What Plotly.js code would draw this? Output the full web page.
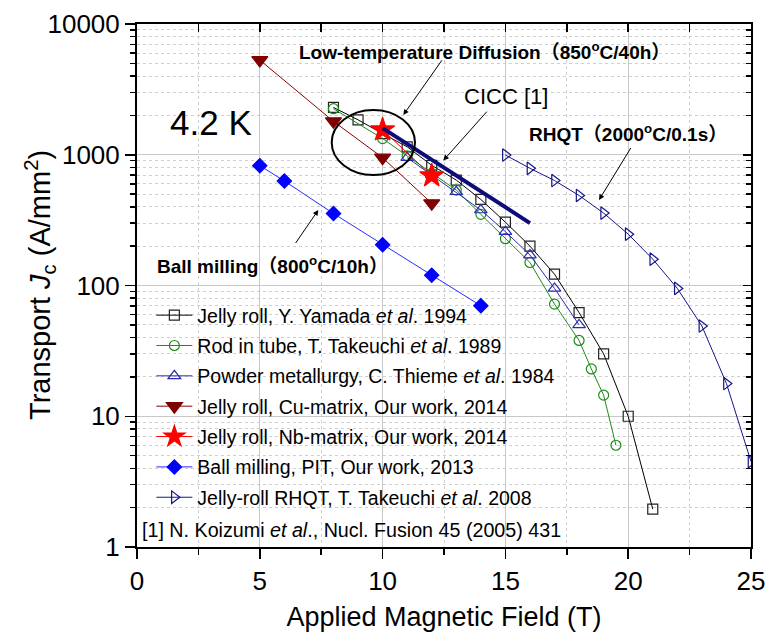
<!DOCTYPE html>
<html>
<head>
<meta charset="utf-8">
<script src="https://cdn.plot.ly/plotly-3.0.1.min.js"></script>
<style>html,body{margin:0;padding:0;background:#fff;}#chart{width:778px;height:633px;}</style>
</head>
<body>
<div id="chart"></div>
<script>
// ---- data ----
const yamadaB  = [8, 9, 10, 11, 12, 13, 14, 15, 16, 17, 18, 19, 20, 21];
const yamadaJc = [2300, 1850, 1450, 1150, 830, 640, 455, 305, 200, 122, 62, 30, 10, 1.95];

const takeuchi89B  = [8, 10, 11, 12, 13, 14, 15, 16, 17, 18, 18.5, 19, 19.5];
const takeuchi89Jc = [2250, 1330, 980, 720, 537, 350, 228, 150, 72, 38, 23, 14.5, 6];

const thiemeB  = [11, 12, 13, 14, 15, 16, 17, 18];
const thiemeJc = [950, 700, 521, 378, 258, 171, 95, 50];

const cuB  = [5, 8, 10, 12];
const cuJc = [5300, 1800, 950, 425];

const nbB  = [10, 12];
const nbJc = [1550, 690];

const ballB  = [5, 6, 8, 10, 12, 14];
const ballJc = [825, 630, 355, 205, 120, 70];

const rhqtB  = [15, 16, 17, 18, 19, 20, 21, 22, 23, 24, 25];
const rhqtJc = [995, 787, 635, 488, 358, 247, 159, 95, 49, 17.8, 4.5];

const ciccB  = [10, 16];
const ciccJc = [1600, 300];

const seriesNames = [
  'Jelly roll, Y. Yamada <i>et al</i>. 1994',
  'Rod in tube, T. Takeuchi <i>et al</i>. 1989',
  'Powder metallurgy, C. Thieme <i>et al</i>. 1984',
  'Jelly roll, Cu-matrix, Our work, 2014',
  'Jelly roll, Nb-matrix, Our work, 2014',
  'Ball milling, PIT, Our work, 2013',
  'Jelly-roll RHQT, T. Takeuchi <i>et al</i>. 2008'
];

const xTickVals  = [0, 5, 10, 15, 20, 25];
const xTickText  = ['0', '5', '10', '15', '20', '25'];
const xMinorVals = [2.5, 7.5, 12.5, 17.5, 22.5];
const xTopVals   = [0, 2.5, 5, 7.5, 10, 12.5, 15, 17.5, 20, 22.5, 25];
const yTickVals  = [1, 10, 100, 1000, 10000];
const yTickText  = ['1', '10', '100', '1000', '10000'];

// ---- styling ----
const SANS = "'Liberation Sans', Arial, 'Noto Sans CJK SC', sans-serif";

const yMinorVals = [];
for (let d = 1; d < 10000; d *= 10) {
  for (let m = 2; m <= 9; m++) yMinorVals.push(m * d);
}

function series(x, y, name, symbol, color, size, lineColor, group) {
  return {
    x: x, y: y, name: name, type: 'scatter', mode: 'lines+markers', legendgroup: group,
    line: {color: lineColor || color, width: 1},
    marker: {symbol: symbol, size: size, color: color, line: {color: color, width: 1.2}},
    cliponaxis: true
  };
}

const traces = [
  series(yamadaB, yamadaJc, seriesNames[0], 'square-open', '#222222', 10, '#000000', 'g1'),
  series(takeuchi89B, takeuchi89Jc, seriesNames[1], 'circle-open', '#1a8c1a', 10, null, 'g2'),
  series(thiemeB, thiemeJc, seriesNames[2], 'triangle-up-open', '#2a2ab0', 11, null, 'g3'),
  series(cuB, cuJc, seriesNames[3], 'triangle-down', '#7f0000', 14, '#8b0000', 'g4'),
  series(nbB, nbJc, seriesNames[4], 'star', '#ff0000', 18, null, 'g5'),
  series(ballB, ballJc, seriesNames[5], 'diamond', '#0000ff', 11, '#2a2aff', 'g6'),
  series(rhqtB, rhqtJc, seriesNames[6], 'triangle-right-open', '#161688', 11, null, 'g7'),
  {x: ciccB, y: ciccJc, type: 'scatter', mode: 'lines', showlegend: false,
   line: {color: '#0c0c7a', width: 4}, hoverinfo: 'skip'},
  // helpers so that the mirrored (inside-tick) axes are drawn
  {x: [0], y: [1], xaxis: 'x2', yaxis: 'y', mode: 'markers', marker: {opacity: 0}, showlegend: false, hoverinfo: 'skip'},
  {x: [0], y: [1], xaxis: 'x', yaxis: 'y2', mode: 'markers', marker: {opacity: 0}, showlegend: false, hoverinfo: 'skip'}
];

// plot area in px: left 137, right 751, top 24, bottom 547
const L = 137, R = 751, T = 24, B = 547;
const px = v => (v - L) / (R - L);
const py = v => (B - v) / (B - T);

function label(text, x, y, font, anchor) {
  return {text: text, xref: 'paper', yref: 'paper', x: px(x), y: py(y),
          xanchor: anchor || 'left', yanchor: 'middle', showarrow: false, font: font};
}
function arrow(tipX, tipY, tailX, tailY) {
  return {text: ' ', font: {size: 1}, xref: 'paper', yref: 'paper', x: px(tipX), y: py(tipY),
          ax: tailX - tipX, ay: tailY - tipY, axref: 'pixel', ayref: 'pixel',
          showarrow: true, arrowhead: 2, arrowsize: 1.1, arrowwidth: 1, arrowcolor: '#000'};
}

const boldFont = {family: SANS, size: 19, color: '#000', weight: 'bold'};

const yTitle = label('Transport <i>J</i><sub>c</sub> (A/mm<sup>2</sup>)', 40, 285,
                     {family: SANS, size: 29, color: '#000'}, 'center');
yTitle.textangle = -90;

const layout = {
  width: 778, height: 633,
  margin: {l: L, r: 778 - R, t: T, b: 633 - B, pad: 0},
  paper_bgcolor: '#fff', plot_bgcolor: '#fff',
  showlegend: true,
  legend: {x: 0.0234, y: 0.48, xanchor: 'left', yanchor: 'top', bgcolor: 'rgba(0,0,0,0)',
           borderwidth: 0, font: {family: SANS, size: 19.5, color: '#000'}, tracegroupgap: 2, itemwidth: 36},
  xaxis: {
    range: [0, 25], tickmode: 'array', tickvals: xTickVals, ticktext: xTickText,
    ticks: 'outside', ticklen: 10, tickwidth: 1.5, tickcolor: '#000',
    showline: true, linewidth: 2, linecolor: '#000', mirror: true,
    showgrid: true, gridcolor: '#c8c8c8', gridwidth: 1, zeroline: false,
    tickfont: {family: SANS, size: 26, color: '#000'},
    title: {text: 'Applied Magnetic Field (T)', font: {family: SANS, size: 27, color: '#000'}, standoff: 12},
    minor: {tickmode: 'array', tickvals: xMinorVals, ticks: 'outside', ticklen: 6, tickwidth: 1.5, tickcolor: '#000',
            showgrid: true, gridcolor: '#cfcfcf', griddash: 'dot', gridwidth: 1}
  },
  yaxis: {
    type: 'log', range: [0, 4], tickmode: 'array', tickvals: yTickVals, ticktext: yTickText,
    ticks: 'outside', ticklen: 10, tickwidth: 1.5, tickcolor: '#000',
    showline: true, linewidth: 2, linecolor: '#000', mirror: true,
    showgrid: true, gridcolor: '#c8c8c8', gridwidth: 1, zeroline: false,
    tickfont: {family: SANS, size: 26, color: '#000'},
    minor: {tickmode: 'array', tickvals: yMinorVals, ticks: 'outside', ticklen: 5, tickwidth: 1.5, tickcolor: '#000',
            showgrid: true, gridcolor: '#cfcfcf', griddash: 'dot', gridwidth: 1}
  },
  xaxis2: {
    overlaying: 'x', side: 'top', anchor: 'y', range: [0, 25], tickmode: 'array', tickvals: xTopVals,
    ticks: 'inside', ticklen: 8, tickwidth: 1.5, tickcolor: '#000', showticklabels: false,
    showgrid: false, showline: false, zeroline: false
  },
  yaxis2: {
    overlaying: 'y', side: 'right', anchor: 'x', type: 'log', range: [0, 4], tickmode: 'array', tickvals: yTickVals,
    ticks: 'inside', ticklen: 8, tickwidth: 1.5, tickcolor: '#000', showticklabels: false,
    showgrid: false, showline: false, zeroline: false,
    minor: {tickmode: 'array', tickvals: yMinorVals, ticks: 'inside', ticklen: 5, tickwidth: 1.5, tickcolor: '#000', showgrid: false}
  },
  shapes: [
    {type: 'circle', xref: 'paper', yref: 'paper', x0: px(331.7), x1: px(415), y0: py(175), y1: py(110),
     line: {color: '#000', width: 2}, fillcolor: 'rgba(0,0,0,0)'}
  ],
  annotations: [
    yTitle,
    label('4.2 K', 211, 122, {family: SANS, size: 35, color: '#000'}, 'center'),
    label('Low-temperature Diffusion（850<sup>o</sup>C/40h）', 297, 51, boldFont),
    arrow(403.3, 115, 443.3, 58.3),
    label('CICC [1]', 506, 97, {family: SANS, size: 22, color: '#000'}, 'center'),
    arrow(443.3, 160.5, 488.3, 110),
    label('RHQT（2000<sup>o</sup>C/0.1s）', 527, 133, boldFont),
    arrow(599, 200, 632, 146),
    label('Ball milling（800<sup>o</sup>C/10h）', 155, 265, boldFont),
    arrow(318.3, 210, 294.3, 245),
    label('[1] N. Koizumi <i>et al</i>., Nucl. Fusion 45 (2005) 431', 140, 530, {family: SANS, size: 19.7, color: '#000'})
  ]
};

Plotly.newPlot('chart', traces, layout, {displayModeBar: false, staticPlot: true});
</script>
</body>
</html>
